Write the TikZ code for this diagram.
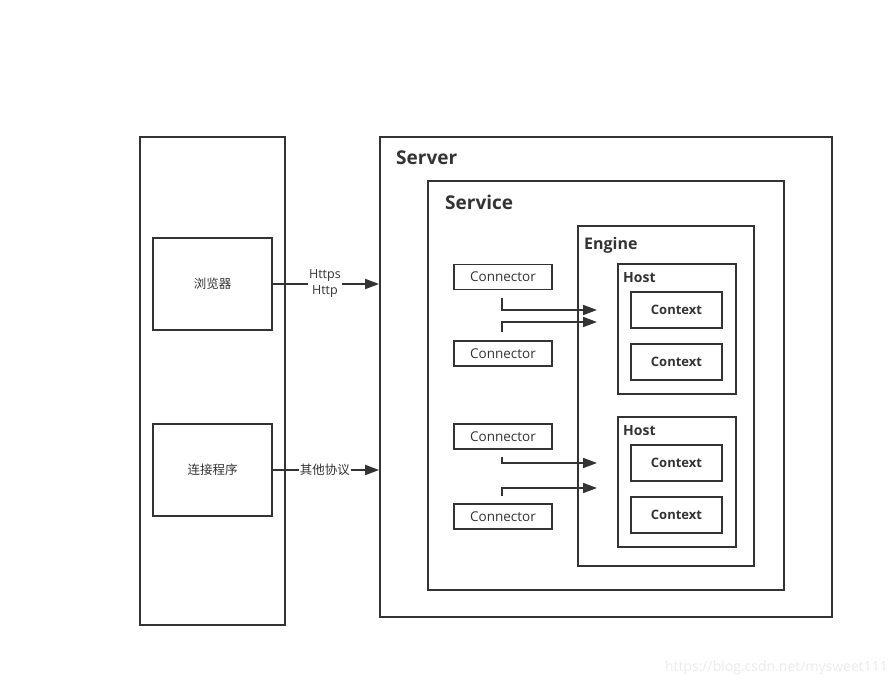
\documentclass[tikz,border=0pt]{standalone}
\usepackage{fontspec}
\setmainfont{Open Sans}
\newfontfamily\cjk{Noto Sans CJK SC}
\usetikzlibrary{arrows.meta}
\definecolor{ink}{HTML}{333333}
\tikzset{
  box/.style={draw=ink, line width=1.8pt, inner sep=0pt},
  ttl/.style={anchor=west, text=ink, font=\bfseries, inner sep=0pt},
  conn/.style={draw=ink, line width=1.6pt, minimum width=98pt, minimum height=25pt, inner sep=0pt, text=ink, font=\fontsize{13.5}{15}\selectfont},
  ctx/.style={draw=ink, line width=1.6pt, minimum width=91pt, minimum height=36pt, inner sep=0pt, text=ink, font=\fontsize{13}{14}\selectfont\bfseries},
  link/.style={draw=ink, line width=1.8pt, -{Triangle[length=14pt,width=10pt]}},
  lbl/.style={fill=white, inner sep=1pt, text=ink, align=center, font=\fontsize{12.5}{16}\selectfont}
}
\begin{document}
\begin{tikzpicture}[x=1pt,y=-1pt]
\useasboundingbox (0,0) rectangle (894,687);
% client side
\draw[box] (140,137) rectangle (285,625);
\node[box, minimum width=119pt, minimum height=92pt, text=ink, font=\cjk\fontsize{12.5}{14}\selectfont] (browser) at (212.5,284) {浏览器};
\node[box, minimum width=119pt, minimum height=92pt, text=ink, font=\cjk\fontsize{12.5}{14}\selectfont] (prog) at (212.5,470) {连接程序};
% server
\node[box, minimum width=452pt, minimum height=480pt] (server) at (606,377) {};
\node[ttl, font=\fontsize{19}{22}\selectfont\bfseries] at (396,158) {Server};
\node[box, minimum width=356pt, minimum height=409pt] (service) at (606,385.5) {};
\node[ttl, font=\fontsize{19}{22}\selectfont\bfseries] at (445,202) {Service};
\node[box, minimum width=176pt, minimum height=340pt] (engine) at (666,396) {};
\node[ttl, font=\fontsize{16}{18}\selectfont\bfseries] at (584,245) {Engine};
% hosts
\node[box, line width=1.6pt, minimum width=118pt, minimum height=130pt] (host1) at (677,329) {};
\node[ttl, font=\fontsize{14}{16}\selectfont\bfseries] at (623,278) {Host};
\node[ctx] (ctx1) at (676.5,310) {Context};
\node[ctx] (ctx2) at (676.5,362) {Context};
\node[box, line width=1.6pt, minimum width=118pt, minimum height=130pt] (host2) at (677,482) {};
\node[ttl, font=\fontsize{14}{16}\selectfont\bfseries] at (623,431) {Host};
\node[ctx] (ctx3) at (676.5,463) {Context};
\node[ctx] (ctx4) at (676.5,515) {Context};
% connectors
\node[conn] (c1) at (503,277) {Connector};
\node[conn] (c2) at (503,353.5) {Connector};
\node[conn] (c3) at (503,436.5) {Connector};
\node[conn] (c4) at (503,516.5) {Connector};
\coordinate (s1) at (502,298); \coordinate (e1) at (597,310);
\coordinate (s2) at (502,332); \coordinate (e2) at (597,322);
\coordinate (s3) at (502,457); \coordinate (e3) at (597,463);
\coordinate (s4) at (502,496); \coordinate (e4) at (597,488);
\draw[link] (s1) |- (e1);
\draw[link] (s2) |- (e2);
\draw[link] (s3) |- (e3);
\draw[link] (s4) |- (e4);
% protocols
\draw[link] (browser.east) -- (server.west |- browser.east) node[lbl, pos=0.49] {Https\\Http};
\draw[link] (prog.east) -- (server.west |- prog.east) node[lbl, pos=0.49, font=\cjk\fontsize{12.5}{14}\selectfont] {其他协议};
% watermark
\node[anchor=east, text=black!8, font=\fontsize{14}{16}\selectfont, inner sep=0pt] (wm) at (888,668) {https://blog.csdn.net/mysweet111};
\end{tikzpicture}
\end{document}
